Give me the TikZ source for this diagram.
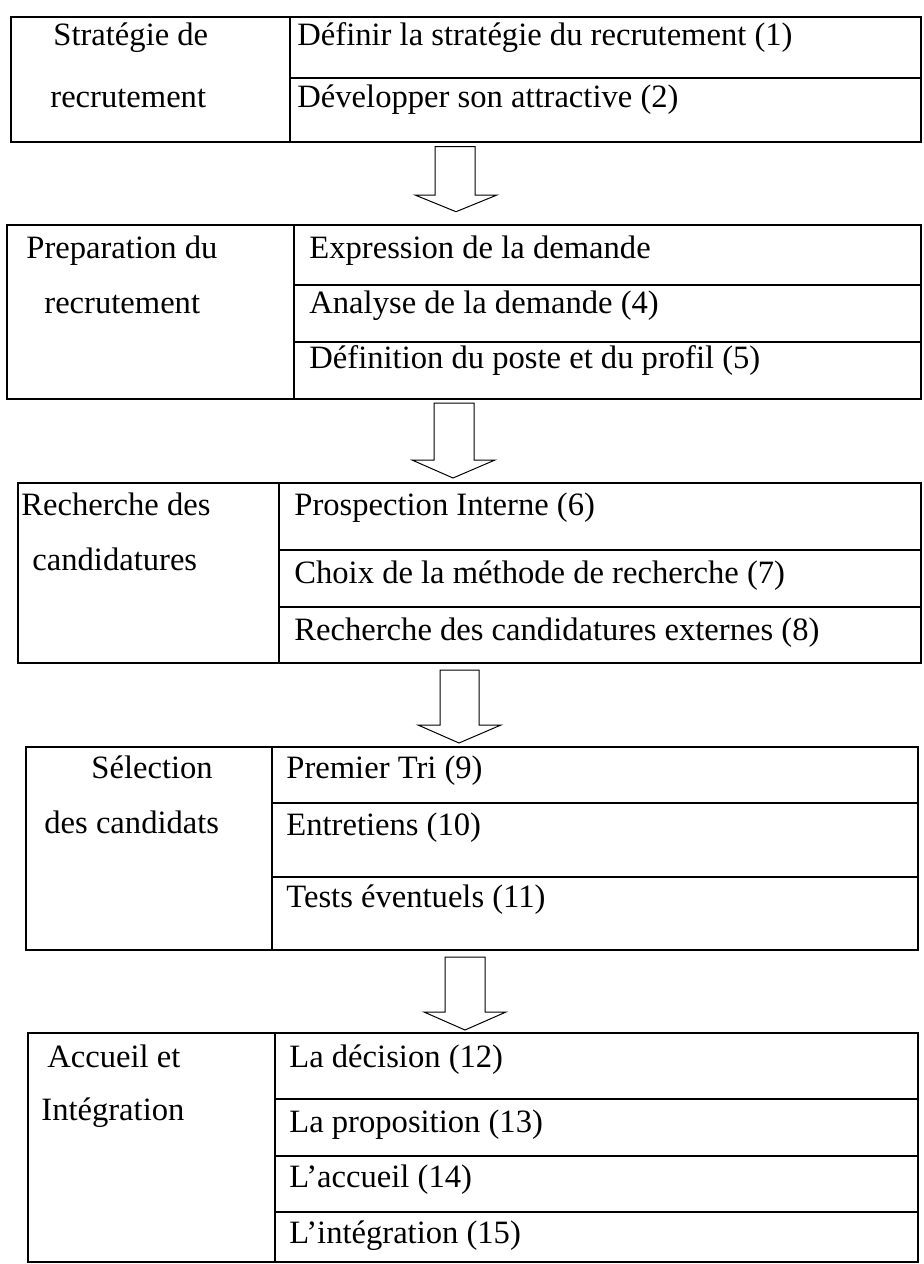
\documentclass[tikz,border=0pt]{standalone}
\usepackage{fontspec}
\setmainfont{Liberation Serif}
\tikzset{
  cadre/.style={line width=1.1pt},
  fleche/.style={line width=0.5pt, line join=miter},
  txt/.style={anchor=base west, inner sep=0pt, font=\fontsize{16.3}{19}\selectfont}
}

\begin{document}
\begin{tikzpicture}[x=0.5pt,y=-0.5pt]
\useasboundingbox (0,0) rectangle (923,1264);

% etape 1
\draw[cadre] (10.6,16.7) rectangle (921,141.7);
\draw[cadre] (290,16.7) -- (290,141.7);
\draw[cadre] (290,78.3) -- (921,78.3);
\node[txt] (g1a) at (53,45) {Stratégie de};
\node[txt] (g1b) at (50,107) {recrutement};
\node[txt] (d1a) at (297,45) {Définir la stratégie du recrutement (1)};
\node[txt] (d1b) at (297,107) {Développer son attractive (2)};

\draw[fleche] (435,146.7) -- (475,146.7) -- (475,195) -- (497,195) -- (456,211.7)
  -- (415,195) -- (435,195) -- cycle;

% etape 2
\draw[cadre] (7,225) rectangle (921,399);
\draw[cadre] (294,225) -- (294,399);
\draw[cadre] (294,285) -- (921,285);
\draw[cadre] (294,341.7) -- (921,341.7);
\node[txt] (g2a) at (26,258) {Preparation du};
\node[txt] (g2b) at (44,313) {recrutement};
\node[txt] (d2a) at (309,258) {Expression de la demande};
\node[txt] (d2b) at (309,313) {Analyse de la demande (4)};
\node[txt] (d2c) at (309,368) {Définition du poste et du profil (5)};

\draw[fleche] (434,403) -- (474,403) -- (474,460) -- (495,460) -- (453,478)
  -- (412,460) -- (434,460) -- cycle;

% etape 3
\draw[cadre] (18,483) rectangle (921,663);
\draw[cadre] (279,483) -- (279,663);
\draw[cadre] (279,550) -- (921,550);
\draw[cadre] (279,607) -- (921,607);
\node[txt] (g3a) at (21,515) {Recherche des};
\node[txt] (g3b) at (32,570) {candidatures};
\node[txt] (d3a) at (294,515) {Prospection Interne (6)};
\node[txt] (d3b) at (294,583) {Choix de la méthode de recherche (7)};
\node[txt] (d3c) at (294,640) {Recherche des candidatures externes (8)};

\draw[fleche] (440,670) -- (479,670) -- (479,725) -- (501,725) -- (459,743)
  -- (418,725) -- (440,725) -- cycle;

% etape 4
\draw[cadre] (26,747) rectangle (918,950);
\draw[cadre] (272,747) -- (272,950);
\draw[cadre] (272,803) -- (918,803);
\draw[cadre] (272,877) -- (918,877);
\node[txt] (g4a) at (91,778) {Sélection};
\node[txt] (g4b) at (44,833) {des candidats};
\node[txt] (d4a) at (286,778) {Premier Tri (9)};
\node[txt] (d4b) at (286,835) {Entretiens (10)};
\node[txt] (d4c) at (286,907) {Tests éventuels (11)};

\draw[fleche] (445,957) -- (485,957) -- (485,1012) -- (506,1012) -- (465,1030)
  -- (424,1012) -- (445,1012) -- cycle;

% etape 5
\draw[cadre] (28,1033) rectangle (918,1262);
\draw[cadre] (275,1033) -- (275,1262);
\draw[cadre] (275,1099) -- (918,1099);
\draw[cadre] (275,1156) -- (918,1156);
\draw[cadre] (275,1212) -- (918,1212);
\node[txt] (g5a) at (47,1067) {Accueil et};
\node[txt] (g5b) at (41,1120) {Intégration};
\node[txt] (d5a) at (289,1067) {La décision (12)};
\node[txt] (d5b) at (289,1132) {La proposition (13)};
\node[txt] (d5c) at (289,1187) {L’accueil (14)};
\node[txt] (d5d) at (289,1243) {L’intégration (15)};

\end{tikzpicture}
\end{document}
